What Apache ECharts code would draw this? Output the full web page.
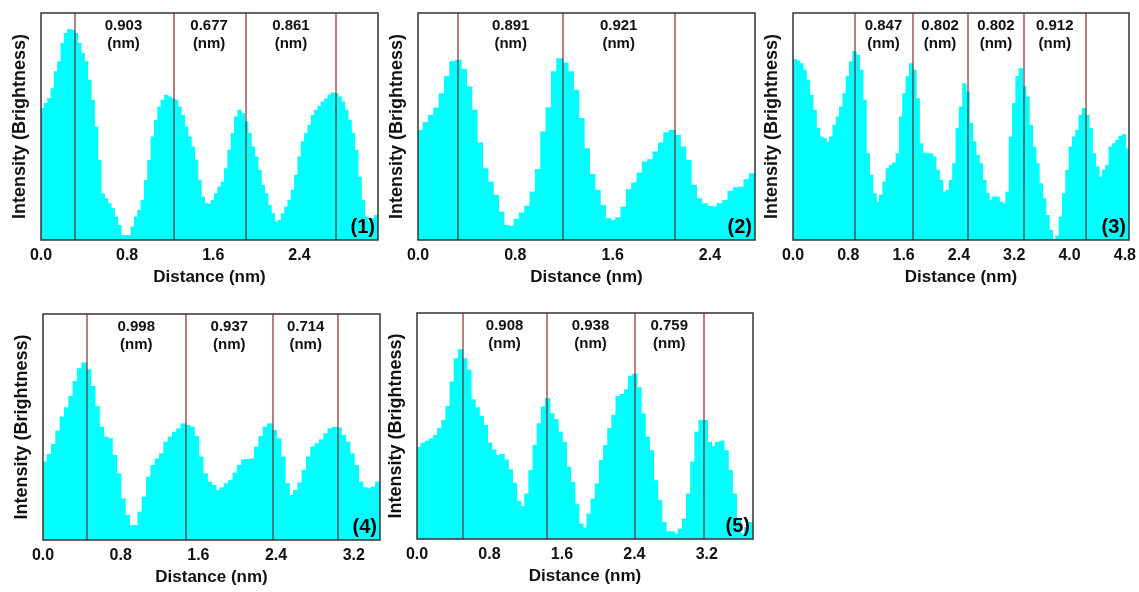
<!DOCTYPE html>
<html>
<head>
<meta charset="utf-8">
<title>Line profiles</title>
<script src="https://cdn.jsdelivr.net/npm/echarts/dist/echarts.min.js"></script>
<style>
    html, body { margin: 0; padding: 0; background: #fff; }
    #chart { width: 1139px; height: 592px; }
</style>
</head>
<body>
<div id="chart"></div>
<script>
    // intensity profiles (0 = bottom of frame, 100 = top)
    var profile1 = [58.1, 60.3, 62.5, 66.9, 74.3, 78.7, 86.8, 91.2, 92.9, 92.6,
        91.2, 86.8, 82.4, 78.7, 70.6, 61.8, 50.0, 35.3, 20.6, 18.4,
        16.2, 14.0, 10.3, 6.6, 2.2, 2.2, 2.2, 5.9, 10.3, 13.2,
        17.6, 26.5, 35.3, 45.6, 52.9, 58.8, 61.8, 64.0, 63.2, 62.5,
        61.8, 58.8, 55.1, 50.0, 45.6, 41.2, 35.3, 26.5, 19.1, 16.2,
        15.9, 17.6, 20.6, 23.5, 25.7, 31.6, 39.7, 47.1, 54.4, 57.4,
        55.9, 52.2, 47.1, 41.2, 36.8, 30.9, 24.3, 20.6, 15.4, 11.8,
        8.1, 8.8, 11.8, 14.7, 17.6, 22.1, 28.7, 36.8, 43.4, 47.1,
        50.7, 55.1, 57.4, 59.1, 61.0, 62.5, 64.0, 65.0, 64.7, 63.2,
        61.0, 57.4, 52.9, 47.1, 39.7, 27.9, 17.6, 10.3, 8.1, 9.6, 11.0];
    var profile2 = [48.5, 51.9, 55.1, 58.4, 64.7, 72.1, 78.7, 79.4, 75.3, 67.6,
        57.4, 43.0, 31.6, 25.7, 19.9, 12.5, 6.6, 6.2, 9.3, 12.1,
        15.1, 21.3, 31.2, 47.8, 58.5, 74.3, 80.1, 78.2, 74.3, 66.2,
        53.7, 40.4, 29.1, 22.1, 15.4, 9.6, 8.8, 10.0, 14.7, 22.4,
        25.3, 29.7, 34.6, 35.6, 39.0, 42.9, 47.4, 48.5, 46.3, 41.2,
        35.3, 24.3, 18.4, 16.2, 15.1, 14.7, 16.2, 17.6, 21.6, 23.2,
        23.5, 26.8, 29.4];
    var profile3 = [79.7, 79.1, 77.9, 75.0, 70.6, 64.0, 57.4, 49.3, 45.6, 44.9,
        43.4, 45.6, 50.7, 54.4, 58.8, 64.7, 72.4, 78.7, 83.1, 81.6,
        75.0, 61.8, 38.2, 28.7, 20.6, 16.9, 19.9, 25.7, 31.6, 33.1,
        34.1, 38.2, 54.4, 64.7, 72.1, 77.9, 75.0, 62.5, 42.6, 38.5,
        38.2, 38.2, 36.8, 30.9, 26.5, 21.3, 22.1, 26.5, 33.8, 49.3,
        58.8, 69.1, 65.4, 51.5, 43.4, 37.5, 33.8, 26.5, 20.6, 17.6,
        19.1, 19.1, 16.9, 16.2, 21.3, 45.6, 60.3, 72.1, 75.7, 67.6,
        63.2, 50.7, 41.2, 33.8, 25.0, 18.4, 11.0, 4.4, 0.3, 1.9,
        10.3, 20.6, 30.9, 41.2, 45.6, 48.5, 55.1, 58.1, 55.1, 49.3,
        38.2, 32.4, 27.9, 30.9, 33.1, 41.2, 42.6, 44.1, 45.9, 46.6, 40.4];
    var profile4 = [34.7, 38.1, 42.5, 48.4, 54.6, 58.7, 63.7, 70.4, 76.0, 78.5,
        75.5, 68.1, 59.3, 50.1, 45.7, 45.0, 37.6, 29.5, 18.4, 11.1,
        6.6, 6.6, 12.5, 19.2, 28.0, 33.2, 36.1, 38.3, 43.5, 45.7,
        47.9, 49.4, 51.6, 50.9, 50.1, 46.0, 36.9, 29.5, 25.8, 24.3,
        22.1, 23.3, 25.1, 26.5, 29.8, 33.2, 35.7, 35.8, 36.1, 41.3,
        46.0, 50.1, 51.6, 48.7, 45.0, 36.9, 25.1, 19.9, 22.1, 25.4,
        31.0, 36.9, 41.3, 42.8, 44.5, 47.2, 49.4, 50.1, 49.7, 46.5,
        43.5, 38.3, 33.2, 25.8, 23.3, 22.9, 23.6, 25.8];
    var profile5 = [40.8, 42.6, 43.5, 44.5, 46.0, 49.0, 52.7, 58.9, 69.7, 80.0,
        84.0, 80.0, 74.9, 61.8, 58.3, 54.4, 50.4, 42.6, 39.6, 37.1,
        37.6, 35.2, 30.8, 24.9, 16.9, 14.5, 20.1, 30.5, 41.6, 51.2,
        58.6, 62.3, 55.6, 53.0, 47.5, 43.0, 32.0, 25.3, 15.4, 6.8,
        5.0, 11.2, 17.9, 24.6, 34.9, 41.6, 49.0, 54.9, 63.3, 64.2,
        66.3, 72.2, 73.1, 67.2, 55.6, 45.3, 39.3, 26.0, 17.2, 7.5,
        3.4, 3.4, 2.4, 4.6, 9.0, 20.1, 34.2, 47.5, 52.7, 52.7,
        43.0, 41.1, 43.0, 43.5, 39.3, 30.5, 20.1, 9.0, 2.4, 5.3, 7.5];

    // length of each profile (nm)
    var lengths = [3.13, 2.77, 4.86, 3.47, 3.71];

    // positions of the marker lines (nm) and the spacings written between them
    var lines1 = [0.307, 1.225, 1.898, 2.744];
    var lines2 = [0.334, 1.189, 2.110];
    var lines3 = [0.892, 1.725, 2.530, 3.340, 4.231];
    var lines4 = [0.454, 1.467, 2.371, 3.038];
    var lines5 = [0.504, 1.430, 2.401, 3.169];
    var spacing1 = ['0.903', '0.677', '0.861'];
    var spacing2 = ['0.891', '0.921'];
    var spacing3 = ['0.847', '0.802', '0.802', '0.912'];
    var spacing4 = ['0.998', '0.937', '0.714'];
    var spacing5 = ['0.908', '0.938', '0.759'];

    var panelNames = ['(1)', '(2)', '(3)', '(4)', '(5)'];
    var xTitle = 'Distance (nm)';
    var yTitle = 'Intensity (Brightness)';

    var profiles = [profile1, profile2, profile3, profile4, profile5];
    var lines = [lines1, lines2, lines3, lines4, lines5];
    var spacings = [spacing1, spacing2, spacing3, spacing4, spacing5];

    var boxes = [
        {left: 41, top: 13, width: 337, height: 227},
        {left: 418, top: 13, width: 337, height: 227},
        {left: 793, top: 13, width: 336, height: 227},
        {left: 43, top: 314, width: 337, height: 226},
        {left: 417, top: 313, width: 336, height: 226}
    ];

    var font = "'Liberation Sans', Arial, sans-serif";
    var ink = '#111';

    var chart = echarts.init(document.getElementById('chart'), null, {renderer: 'canvas'});

    var grids = [], xAxes = [], yAxes = [], series = [], graphics = [];

    profiles.forEach(function (prof, i) {
        var b = boxes[i];
        grids.push({
            left: b.left, top: b.top, width: b.width, height: b.height,
            show: true, borderColor: '#333', borderWidth: 1.5,
            backgroundColor: 'transparent', z: 5,
            containLabel: false, outerBoundsMode: 'none'
        });
        // hidden band axis holding the bins
        xAxes.push({
            type: 'category', gridIndex: i, show: false,
            data: prof.map(function (v, k) { return k; })
        });
        // visible distance axis
        xAxes.push({
            type: 'value', gridIndex: i, position: 'bottom',
            min: 0, max: lengths[i], interval: 0.8,
            axisLine: {show: false}, axisTick: {show: false}, splitLine: {show: false},
            axisLabel: {
                color: ink, fontFamily: font, fontWeight: 'bold', fontSize: 16, margin: 8,
                showMaxLabel: false,
                formatter: function (v) { return v.toFixed(1); }
            },
            name: xTitle, nameLocation: 'middle', nameGap: 29,
            nameTextStyle: {color: ink, fontFamily: font, fontWeight: 'bold', fontSize: 17}
        });
        yAxes.push({
            type: 'value', gridIndex: i, min: 0, max: 100,
            axisLine: {show: false}, axisTick: {show: false},
            axisLabel: {show: false}, splitLine: {show: false},
            name: yTitle, nameLocation: 'middle', nameGap: 12,
            nameTextStyle: {color: ink, fontFamily: font, fontWeight: 'bold', fontSize: 18}
        });

        // bars a little wider than their bin so neighbours overlap and no seams show
        series.push({
            type: 'bar', xAxisIndex: 2 * i, yAxisIndex: i,
            data: prof, barWidth: '130%', barGap: '-100%',
            itemStyle: {color: '#00ffff'},
            silent: true
        });

        var pos = lines[i];
        var labels = spacings[i].map(function (s, k) {
            return {value: [(pos[k] + pos[k + 1]) / 2, 90.5], name: s};
        });
        series.push({
            type: 'scatter', xAxisIndex: 2 * i + 1, yAxisIndex: i,
            data: labels, symbolSize: 1,
            itemStyle: {color: 'transparent', opacity: 1},
            label: {
                show: true, position: 'inside', formatter: '{b}\n(nm)', opacity: 1,
                color: ink, fontFamily: font, fontWeight: 'bold', fontSize: 15, lineHeight: 18
            },
            markLine: {
                silent: true, symbol: 'none', label: {show: false},
                lineStyle: {color: 'rgba(115, 15, 15, 0.7)', width: 1.5, type: 'solid', opacity: 1},
                data: pos.map(function (p) { return {xAxis: p}; })
            },
            z: 10
        });

        graphics.push({
            type: 'text', z: 100,
            x: b.left + b.width - 3, y: b.top + b.height - 3,
            style: {
                text: panelNames[i], fill: '#000', font: 'bold 20px ' + font,
                textAlign: 'right', textVerticalAlign: 'bottom'
            }
        });
    });

    chart.setOption({
        animation: false,
        grid: grids,
        xAxis: xAxes,
        yAxis: yAxes,
        series: series,
        graphic: graphics
    });
</script>
</body>
</html>
